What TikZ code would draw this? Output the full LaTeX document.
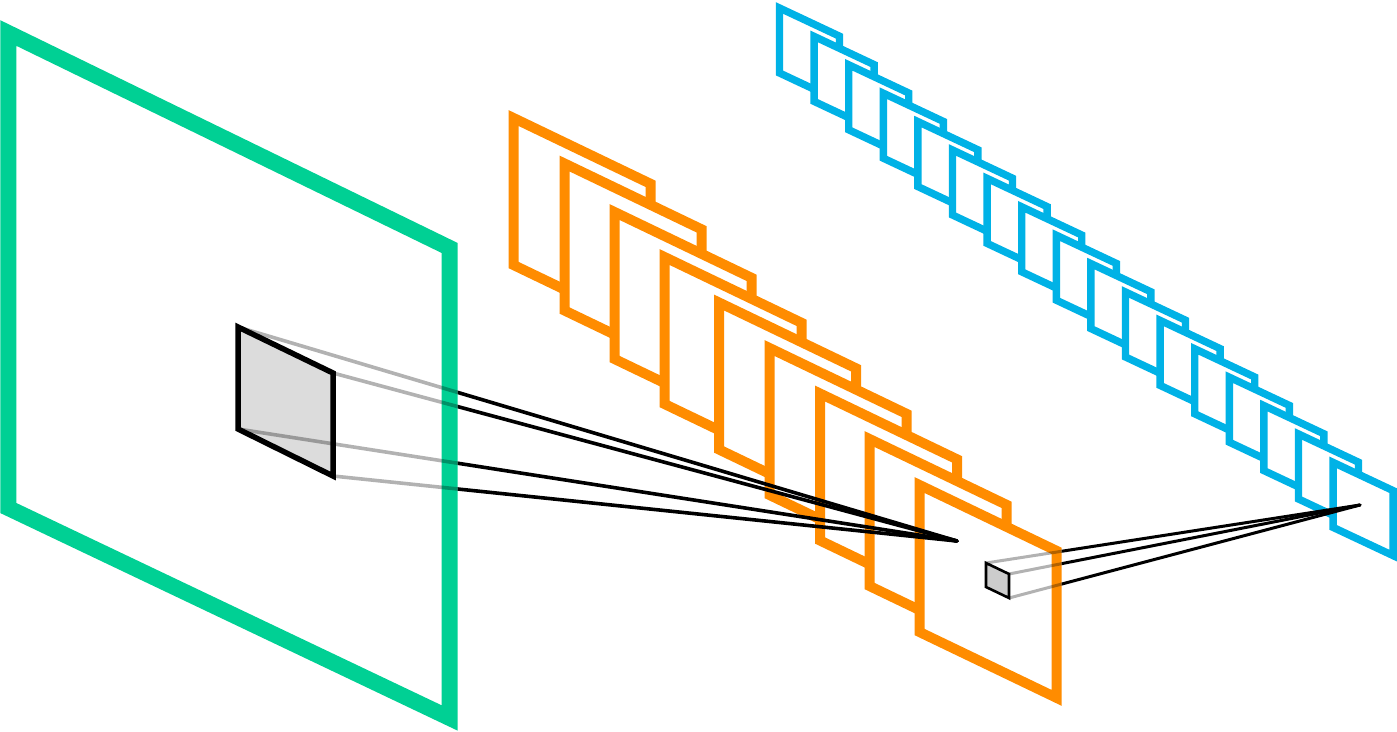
\documentclass[tikz,border=0pt]{standalone}
\definecolor{cgreen}{RGB}{0,208,148}
\definecolor{corange}{RGB}{255,140,0}
\definecolor{cblue}{RGB}{0,178,230}
\definecolor{patchgray}{RGB}{220,220,220}
\definecolor{cubegray}{RGB}{204,204,204}
\begin{document}
\begin{tikzpicture}[x=1pt,y=-1pt,line join=miter,
  greenplane/.style={draw=cgreen,line width=16pt},
  orangeplane/.style={draw=corange,line width=10pt,fill=white},
  blueplane/.style={draw=cblue,line width=7.4pt,fill=white},
  patchbox/.style={draw=black,line width=5.5pt,fill=patchgray},
  cubebox/.style={draw=black,line width=2.6pt,fill=cubegray},
  grayline/.style={draw=black,draw opacity=0.3,line width=3.6pt},
  blackline/.style={draw=black,line width=3.6pt,line cap=round},
  graythin/.style={draw=black,draw opacity=0.3,line width=3pt},
  blackthin/.style={draw=black,line width=3pt,line cap=round}]
\useasboundingbox (0,0) rectangle (1397,731);
% input plane
\draw[greenplane] (8.3,33) -- (449.7,248) -- (449.7,718) -- (8.3,508) -- cycle;
% orange feature maps
\foreach \x/\y in {513.5/118,564.5/163.5,614.5/212,664.5/257,719/302.5,769.5/348,820/393.5,869.5/439,919.5/485}
  \draw[orangeplane] (\x,\y) -- ++(137,65.8) -- ++(0,147) -- ++(-137,-65.8) -- cycle;
% blue feature maps
\foreach \i in {0,...,16}
  \draw[blueplane] ({779.5+34.6*\i},{8+28.4*\i}) -- ++(60,28.2) -- ++(0,65) -- ++(-60,-28.2) -- cycle;
% receptive field patch
\coordinate (pA) at (238,327);
\coordinate (pB) at (333,373);
\coordinate (pC) at (333,476);
\coordinate (pD) at (238,429);
\coordinate (t1) at (957,541);
\draw[patchbox] (pA) -- (pB) -- (pC) -- (pD) -- cycle;
% small cube
\coordinate (cA) at (986,563);
\coordinate (cB) at (1009,574);
\coordinate (cC) at (1009,598);
\coordinate (cD) at (986,587);
\coordinate (t2) at (1360,505);
\draw[cubebox] (cA) -- (cB) -- (cC) -- (cD) -- cycle;
% lines from patch
\begin{scope}
  \clip (0,0) rectangle (457.7,731);
  \draw[grayline] (pA) -- (t1);
  \draw[grayline] (pB) -- (t1);
  \draw[grayline] (pC) -- (t1);
  \draw[grayline] (pD) -- (t1);
\end{scope}
\begin{scope}
  \clip (457.7,0) rectangle (1397,731);
  \draw[blackline] (pA) -- (t1);
  \draw[blackline] (pB) -- (t1);
  \draw[blackline] (pC) -- (t1);
  \draw[blackline] (pD) -- (t1);
\end{scope}
% lines from cube
\begin{scope}
  \clip (0,0) rectangle (1061.5,731);
  \draw[graythin] (cA) -- (t2);
  \draw[graythin] (cB) -- (t2);
  \draw[graythin] (cC) -- (t2);
\end{scope}
\begin{scope}
  \clip (1061.5,0) rectangle (1397,731);
  \draw[blackthin] (cA) -- (t2);
  \draw[blackthin] (cB) -- (t2);
  \draw[blackthin] (cC) -- (t2);
\end{scope}
\end{tikzpicture}
\end{document}
